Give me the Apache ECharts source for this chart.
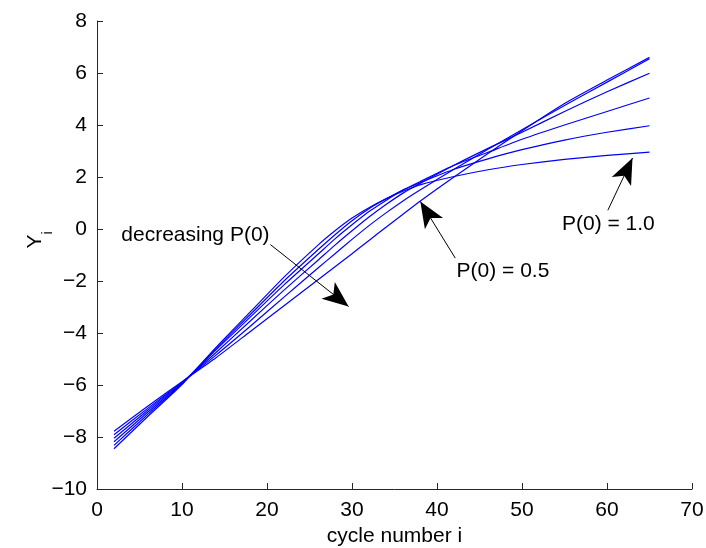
<!DOCTYPE html>
<html>
<head>
<meta charset="utf-8">
<script src="https://cdn.jsdelivr.net/npm/echarts@6/dist/echarts.min.js"></script>
<style>html,body{margin:0;padding:0;background:#fff}#c{width:706px;height:548px}</style>
</head>
<body>
<div id="c"></div>
<script>
var cycles = [2, 6, 10, 14, 18, 22, 26, 28, 30, 32, 34, 36, 38, 42, 46, 50, 55, 60, 65];
// Y_i for each initial probability P(0)
var yP10 = [-8.45, -7.20, -5.98, -4.55, -3.20, -1.85, -0.62, -0.07, 0.42, 0.82, 1.16, 1.45, 1.70, 2.02, 2.28, 2.48, 2.68, 2.83, 2.96];
var yP09 = [-8.32, -7.12, -5.95, -4.60, -3.30, -2.00, -0.80, -0.22, 0.32, 0.78, 1.16, 1.50, 1.78, 2.30, 2.70, 3.05, 3.42, 3.72, 3.97];
var yP08 = [-8.18, -7.04, -5.93, -4.65, -3.40, -2.15, -0.97, -0.38, 0.16, 0.67, 1.10, 1.50, 1.82, 2.45, 2.95, 3.45, 4.00, 4.52, 5.04];
var yP07 = [-8.05, -6.96, -5.91, -4.75, -3.55, -2.35, -1.20, -0.62, -0.07, 0.46, 0.94, 1.38, 1.75, 2.45, 3.10, 3.72, 4.52, 5.28, 5.99];
var yP06 = [-7.91, -6.89, -5.89, -4.85, -3.75, -2.62, -1.50, -0.95, -0.40, 0.13, 0.62, 1.08, 1.50, 2.30, 3.07, 3.82, 4.75, 5.65, 6.55];
var yP05 = [-7.78, -6.81, -5.87, -4.95, -3.95, -2.95, -1.95, -1.45, -0.95, -0.44, 0.07, 0.57, 1.07, 2.00, 2.90, 3.78, 4.83, 5.73, 6.60];
var allSeries = [yP10, yP09, yP08, yP07, yP06, yP05];

var xTicks = {min: 0, max: 70, step: 10};
var yTicks = {min: -10, max: 8, step: 2};

// annotation arrows: [tailX, tailY, tipX, tipY] in data units
var arrows = [
  [20.4, -0.60, 29.6, -2.98],
  [42.15, -1.12, 38.04, 1.06],
  [60.1, 0.72, 63.0, 2.73]
];
// annotation texts: [text, x, y, align]
var notes = [
  ['decreasing P(0)', 20.3, -0.22, 'right'],
  ['P(0) = 0.5', 42.3, -1.62, 'left'],
  ['P(0) = 1.0', 54.7, 0.19, 'left']
];

var FONT = '"Liberation Sans", Arial, sans-serif';
var AX = '#262626';

function pairs(ys) { return cycles.map(function (c, i) { return [c, ys[i]]; }); }
function minus(v) { return String(v).replace('-', '\u2212'); }

var series = allSeries.map(function (ys, k) {
  var s = {
    type: 'line', data: pairs(ys), showSymbol: false, symbol: 'none',
    smooth: 0.2, silent: true,
    lineStyle: {color: '#0000ff', width: 1.2}, z: 2
  };
  if (k === 0) {
    s.markLine = {
      silent: true, animation: false,
      symbol: ['none', 'arrow'],
      label: {show: false},
      emphasis: {disabled: true},
      lineStyle: {color: '#000', width: 1, type: 'solid'},
      itemStyle: {color: '#000'},
      data: arrows.map(function (a) {
        return [
          {coord: [a[0], a[1]], symbol: 'none'},
          {coord: [a[2], a[3]], symbol: 'arrow', symbolSize: [16, 26]}
        ];
      })
    };
  }
  return s;
});

var chart = echarts.init(document.getElementById('c'), null, {renderer: 'canvas'});
chart.setOption({
  animation: false,
  backgroundColor: '#fff',
  grid: {left: 97, right: 14, top: 21, bottom: 59, containLabel: false, outerBoundsMode: 'none'},
  xAxis: {
    type: 'value', min: xTicks.min, max: xTicks.max, interval: xTicks.step,
    name: 'cycle number i', nameLocation: 'middle', nameGap: 31,
    nameTextStyle: {fontFamily: FONT, fontSize: 21, color: '#000'},
    axisLine: {show: true, onZero: false, lineStyle: {color: AX, width: 1}},
    axisTick: {show: true, inside: true, length: 6, lineStyle: {color: AX}},
    axisLabel: {fontFamily: FONT, fontSize: 21, color: '#000', margin: 11, formatter: minus},
    splitLine: {show: false}
  },
  yAxis: {
    type: 'value', min: yTicks.min, max: yTicks.max, interval: yTicks.step,
    name: '{y|Y}{s|i}', nameLocation: 'middle', nameGap: 42, nameRotate: 90,
    nameMoveOverlap: false,
    nameTextStyle: {
      fontFamily: FONT, color: '#000', padding: [0, 0, 0, 30],
      rich: {
        y: {fontFamily: FONT, fontSize: 21, color: '#000', lineHeight: 30, verticalAlign: 'top'},
        s: {fontFamily: FONT, fontSize: 14, color: '#000', lineHeight: 16, verticalAlign: 'bottom'}
      }
    },
    axisLine: {show: true, onZero: false, lineStyle: {color: AX, width: 1}},
    axisTick: {show: true, inside: true, length: 6, lineStyle: {color: AX}},
    axisLabel: {fontFamily: FONT, fontSize: 21, color: '#000', margin: 10, formatter: minus},
    splitLine: {show: false}
  },
  series: series
});

var g = notes.map(function (n) {
  var p = chart.convertToPixel({gridIndex: 0}, [n[1], n[2]]);
  return {
    type: 'text', x: p[0], y: p[1], silent: true, z: 10,
    style: {text: n[0], fontFamily: FONT, fontSize: 21, fill: '#000', align: n[3], verticalAlign: 'middle'}
  };
});
chart.setOption({graphic: g});
</script>
</body>
</html>
